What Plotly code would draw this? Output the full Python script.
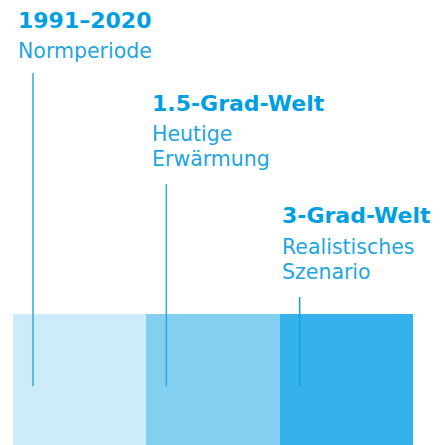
import plotly.graph_objects as go

# ---- data ----
periods = ["1991–2020", "1.5-Grad-Welt", "3-Grad-Welt"]
subtitles = [["Normperiode"], ["Heutige", "Erwärmung"], ["Realistisches", "Szenario"]]
bar_values = [1, 1, 1]
bar_positions = [0, 1, 2]

# ---- styles ----
bar_colors = ["#cdebf8", "#83cfef", "#36b2ea"]
line_colors = ["#2fa9e4", "#2aa8e4", "#0d9fe0"]
title_color = "#009fe3"
sub_color = "#1ea5e2"
TITLE_FONT = "DejaVu Sans"
SUB_FONT = "DejaVu Sans"
W, H = 444, 445
px_unit = 400 / 3.0          # pixels per bar
bar_px = 131                 # bar height in px
x0 = -0.5 - 13 / px_unit
x1 = 2.5 + (W - 413) / px_unit
y_top = H / bar_px

def ydata(px):
    return (H - px) / bar_px

def xdata(px):
    return x0 + px / px_unit

fig = go.Figure()
fig.add_trace(go.Bar(x=bar_positions, y=bar_values, width=1,
                     marker=dict(color=bar_colors, line=dict(width=0)),
                     hoverinfo="skip", showlegend=False))

# leader lines
line_top_px = [73, 184, 297]
line_bot_px = 386
for i, p in enumerate(bar_positions):
    fig.add_trace(go.Scatter(x=[p - 0.35, p - 0.35],
                             y=[ydata(line_top_px[i]), ydata(line_bot_px)],
                             mode="lines", line=dict(color=line_colors[i], width=1.5),
                             hoverinfo="skip", showlegend=False))

# labels
label_left_px = [15.5, 150, 280]
title_mid_px = [20, 103.3, 215.5]
annotations = []
for i, p in enumerate(bar_positions):
    tx = xdata(label_left_px[i])
    annotations.append(dict(x=tx, y=ydata(title_mid_px[i]), xref="x", yref="y",
                            text="<b>" + periods[i] + "</b>", showarrow=False,
                            xanchor="left", yanchor="middle",
                            font=dict(family=TITLE_FONT, size=22, color=title_color)))
    for j, s in enumerate(subtitles[i]):
        ym = title_mid_px[i] + 31 + 25 * j
        annotations.append(dict(x=tx, y=ydata(ym), xref="x", yref="y",
                                text=s, showarrow=False,
                                xanchor="left", yanchor="middle",
                                font=dict(family=SUB_FONT, size=20.5, color=sub_color)))

fig.update_layout(width=W, height=H, margin=dict(l=0, r=0, t=0, b=0),
                  paper_bgcolor="white", plot_bgcolor="white",
                  xaxis=dict(range=[x0, x1], visible=False, fixedrange=True),
                  yaxis=dict(range=[0, y_top], visible=False, fixedrange=True),
                  bargap=0, annotations=annotations)
fig.write_html("out.html", config={"displayModeBar": False},
               post_script="document.body.style.margin='0';document.body.style.overflow='hidden';")
